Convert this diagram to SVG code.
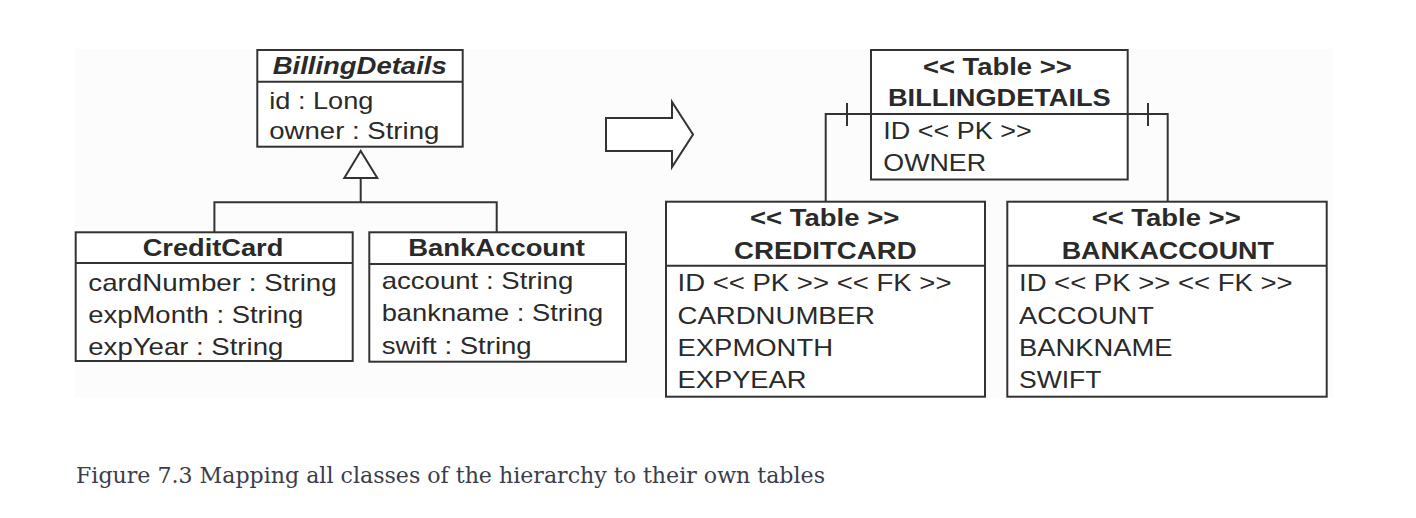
<svg xmlns="http://www.w3.org/2000/svg" width="1416" height="518" viewBox="0 0 1416 518">
<style>
  .box { fill: #ffffff; stroke: #333333; stroke-width: 2; }
  .sep { stroke: #333333; stroke-width: 2; fill: none; }
  .ln { stroke: #333333; stroke-width: 2; fill: none; }
  .t { font-family: "Liberation Sans", Arial, sans-serif; font-size: 24px; fill: #2a2a2a; }
  .b { font-weight: bold; }
  .i { font-style: italic; }
  .cap { font-family: "DejaVu Serif", "Liberation Serif", serif; font-size: 22px; fill: #3c3c4a; }
</style>
<rect x="0" y="0" width="1416" height="518" fill="#ffffff"/>
<rect x="75" y="49" width="1258" height="349" fill="#fcfcfc"/>

<g id="connectors">
  <!-- generalization -->
  <polygon class="box" points="360.7,151 344.3,178 377.3,178"/>
  <polyline class="ln" points="360.7,178 360.7,202.3"/>
  <polyline class="ln" points="214.4,232.3 214.4,202.3 496.7,202.3 496.7,232.3"/>
  <!-- mapping arrow -->
  <polygon class="box" points="606,118 672,118 672,102 693,134.5 672,167 672,151 606,151"/>
  <!-- table relations -->
  <polyline class="ln" points="825.7,201.7 825.7,114 1167.7,114 1167.7,201.7"/>
  <line class="ln" x1="847" y1="103" x2="847" y2="126"/>
  <line class="ln" x1="1148" y1="103" x2="1148" y2="126"/>
</g>

<g id="BillingDetails">
  <rect class="box" x="257.3" y="50" width="205.4" height="96.7"/>
  <line class="sep" x1="257.3" y1="81.7" x2="462.7" y2="81.7"/>
  <text class="t b i" x="272.7" y="74" textLength="174" lengthAdjust="spacingAndGlyphs">BillingDetails</text>
  <text class="t" x="269.3" y="108.5" textLength="104" lengthAdjust="spacingAndGlyphs">id : Long</text>
  <text class="t" x="269.3" y="138.5" textLength="170" lengthAdjust="spacingAndGlyphs">owner : String</text>
</g>

<g id="CreditCard">
  <rect class="box" x="75.7" y="232.3" width="277" height="128.7"/>
  <line class="sep" x1="75.7" y1="263" x2="352.7" y2="263"/>
  <text class="t b" x="142.7" y="256" textLength="140.6" lengthAdjust="spacingAndGlyphs">CreditCard</text>
  <text class="t" x="88.3" y="291" textLength="248.4" lengthAdjust="spacingAndGlyphs">cardNumber : String</text>
  <text class="t" x="88.3" y="322.7" textLength="215" lengthAdjust="spacingAndGlyphs">expMonth : String</text>
  <text class="t" x="88.3" y="354.5" textLength="195" lengthAdjust="spacingAndGlyphs">expYear : String</text>
</g>

<g id="BankAccount">
  <rect class="box" x="369.3" y="232.3" width="256.7" height="129.4"/>
  <line class="sep" x1="369.3" y1="264" x2="626" y2="264"/>
  <text class="t b" x="408.3" y="256" textLength="176.7" lengthAdjust="spacingAndGlyphs">BankAccount</text>
  <text class="t" x="381.7" y="289.3" textLength="191.6" lengthAdjust="spacingAndGlyphs">account : String</text>
  <text class="t" x="381.7" y="321.3" textLength="221.6" lengthAdjust="spacingAndGlyphs">bankname : String</text>
  <text class="t" x="381.7" y="353.5" textLength="150" lengthAdjust="spacingAndGlyphs">swift : String</text>
</g>

<g id="BILLINGDETAILS">
  <rect class="box" x="871" y="50" width="256.7" height="129.5"/>
  <line class="sep" x1="871" y1="114" x2="1127.7" y2="114"/>
  <text class="t b" x="923" y="74.5" textLength="148.7" lengthAdjust="spacingAndGlyphs">&lt;&lt; Table &gt;&gt;</text>
  <text class="t b" x="888" y="105.5" textLength="222.7" lengthAdjust="spacingAndGlyphs">BILLINGDETAILS</text>
  <text class="t" x="883.3" y="138.5" textLength="148.4" lengthAdjust="spacingAndGlyphs">ID &lt;&lt; PK &gt;&gt;</text>
  <text class="t" x="883.3" y="170.5" textLength="102.7" lengthAdjust="spacingAndGlyphs">OWNER</text>
</g>

<g id="CREDITCARD">
  <rect class="box" x="666" y="201.7" width="319" height="195"/>
  <line class="sep" x1="666" y1="265.7" x2="985" y2="265.7"/>
  <text class="t b" x="750" y="226" textLength="149.3" lengthAdjust="spacingAndGlyphs">&lt;&lt; Table &gt;&gt;</text>
  <text class="t b" x="734" y="258.7" textLength="182.7" lengthAdjust="spacingAndGlyphs">CREDITCARD</text>
  <text class="t" x="677.5" y="290.5" textLength="274" lengthAdjust="spacingAndGlyphs">ID &lt;&lt; PK &gt;&gt; &lt;&lt; FK &gt;&gt;</text>
  <text class="t" x="677.5" y="323.5" textLength="197.5" lengthAdjust="spacingAndGlyphs">CARDNUMBER</text>
  <text class="t" x="677.5" y="355.5" textLength="155.5" lengthAdjust="spacingAndGlyphs">EXPMONTH</text>
  <text class="t" x="677.5" y="388.3" textLength="129" lengthAdjust="spacingAndGlyphs">EXPYEAR</text>
</g>

<g id="BANKACCOUNT">
  <rect class="box" x="1007.3" y="201.7" width="319.4" height="195"/>
  <line class="sep" x1="1007.3" y1="265.7" x2="1326.7" y2="265.7"/>
  <text class="t b" x="1091.7" y="226" textLength="149" lengthAdjust="spacingAndGlyphs">&lt;&lt; Table &gt;&gt;</text>
  <text class="t b" x="1061.7" y="258.7" textLength="212.3" lengthAdjust="spacingAndGlyphs">BANKACCOUNT</text>
  <text class="t" x="1019" y="290.5" textLength="273.5" lengthAdjust="spacingAndGlyphs">ID &lt;&lt; PK &gt;&gt; &lt;&lt; FK &gt;&gt;</text>
  <text class="t" x="1019" y="323.5" textLength="135" lengthAdjust="spacingAndGlyphs">ACCOUNT</text>
  <text class="t" x="1019" y="355.5" textLength="153.5" lengthAdjust="spacingAndGlyphs">BANKNAME</text>
  <text class="t" x="1019" y="388.3" textLength="82.5" lengthAdjust="spacingAndGlyphs">SWIFT</text>
</g>

<g id="caption">
  <text class="cap" x="76" y="483" textLength="749" lengthAdjust="spacingAndGlyphs">Figure 7.3 Mapping all classes of the hierarchy to their own tables</text>
</g>
</svg>
